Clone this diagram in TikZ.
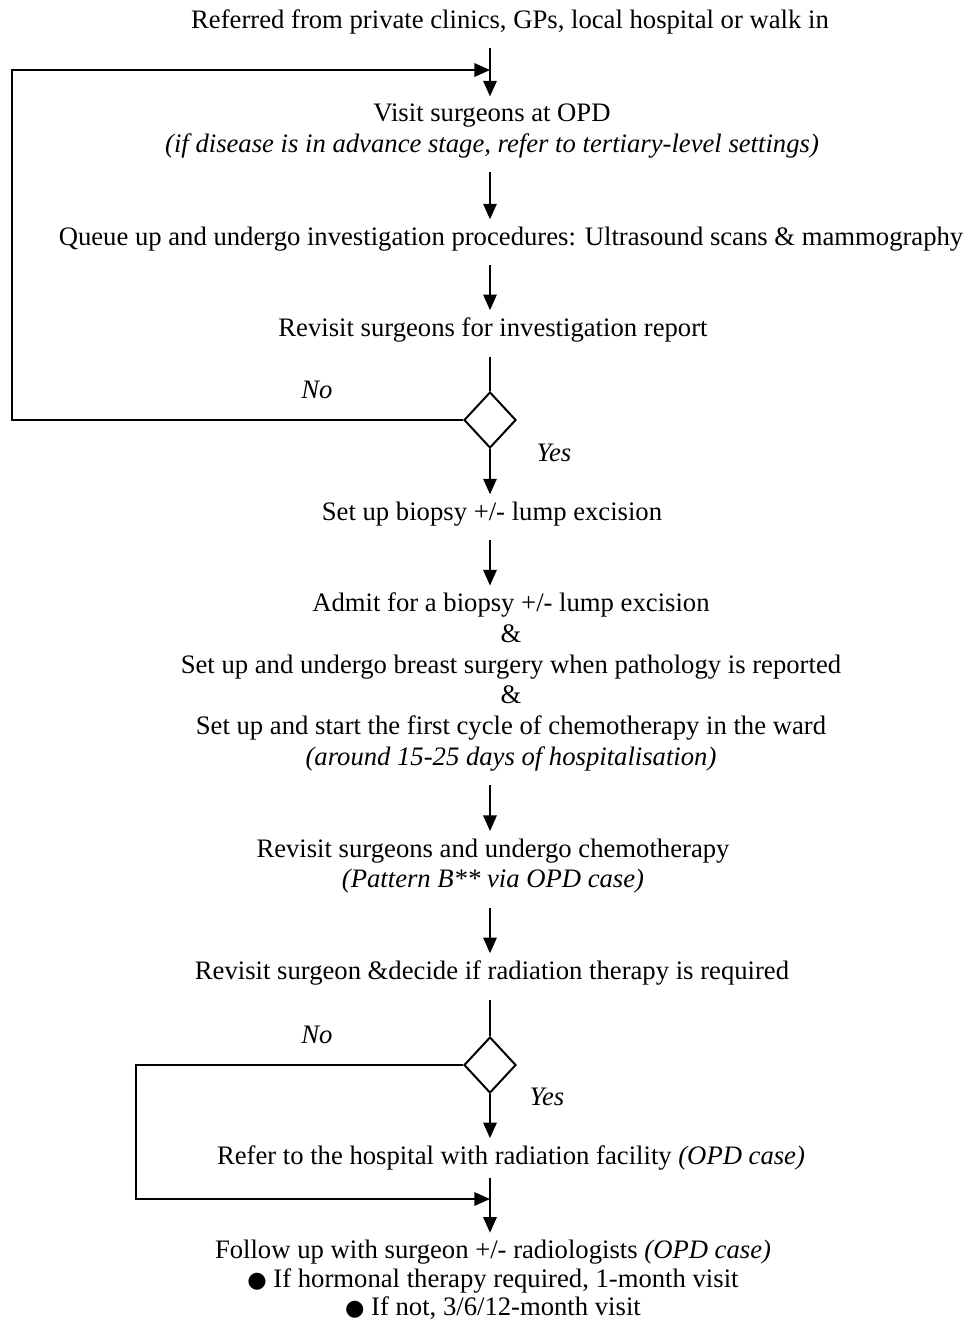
\documentclass[tikz,border=0pt]{standalone}
\usepackage{fontspec}
\setmainfont{Liberation Serif}
\newfontfamily\dotfont{DejaVu Sans}
\usepackage{tikz}
\usetikzlibrary{shapes.geometric, arrows.meta, positioning, calc}

\begin{document}
\begin{tikzpicture}[x=0.45pt, y=-0.45pt,
  every node/.style={font=\fontsize{12}{13.8}\selectfont, align=center, inner xsep=0pt, inner ysep=3.2pt},
  flow/.style={line width=0.9pt, -{Triangle[length=7pt,width=6pt]}, shorten <=3pt},
  loop/.style={line width=0.9pt, -{Triangle[length=7pt,width=6pt]}},
  link/.style={line width=0.9pt},
  decision/.style={diamond, draw, line width=0.9pt, minimum width=23.4pt, minimum height=25.2pt, inner sep=0pt},
  answer/.style={font=\fontsize{12}{13.8}\selectfont\itshape}]
\useasboundingbox (0,0) rectangle (964,1321);

% main column
\coordinate (col) at (490,0);

\node (ref) at (510,22) {Referred from private clinics, GPs, local hospital or walk in};
\node (visit) at (492,131) {Visit surgeons at OPD\\
  \textit{(if disease is in advance stage, refer to tertiary-level settings)}};
\node (queue) at (511,239) {Queue up and undergo investigation procedures: Ultrasound scans \& mammography};
\node (rev) at (493,330) {Revisit surgeons for investigation report};
\node[decision] (dec1) at (490,420) {};
\node (bio) at (492,514) {Set up biopsy +/- lump excision};
\node (admit) at (511,682) {Admit for a biopsy +/- lump excision\\
  \&\\
  Set up and undergo breast surgery when pathology is reported\\
  \&\\
  Set up and start the first cycle of chemotherapy in the ward\\
  \textit{(around 15-25 days of hospitalisation)}};
\node (chemo) at (493,866) {Revisit surgeons and undergo chemotherapy\\
  \textit{(Pattern B** via OPD case)}};
\node (decide) at (492,973) {Revisit surgeon \&decide if radiation therapy is required};
\node[decision] (dec2) at (490,1065) {};
\node (refer) at (511,1158) {Refer to the hospital with radiation facility \textit{(OPD case)}};
\node[font=\fontsize{12}{12.8}\selectfont] (follow) at (493,1280) {Follow up with surgeon +/- radiologists \textit{(OPD case)}\\
  {\dotfont\fontsize{10}{12.8}\selectfont ●} If hormonal therapy required, 1-month visit\\
  {\dotfont\fontsize{10}{12.8}\selectfont ●} If not, 3/6/12-month visit};

% straight arrows
\foreach \a/\b in {ref/visit, visit/queue, queue/rev, admit/chemo, chemo/decide, bio/admit} {
  \draw[flow] (\a.south -| col) -- (\b.north -| col);
}
\draw[flow, shorten <=0pt] (refer.south -| col) -- (follow.north -| col);

% first decision
\draw[link, shorten <=3pt] (rev.south -| col) -- (dec1.north);
\draw[loop] (dec1.south) -- (bio.north -| col);
\coordinate (lft1) at (12,70);
\coordinate (j1) at (490,70);
\draw[loop] (dec1.west) -| (lft1) -- (j1);
\node[answer] (no1) at (317,390) {No};
\node[answer] (yes1) at (554,453) {Yes};

% second decision
\draw[link, shorten <=3pt] (decide.south -| col) -- (dec2.north);
\draw[loop] (dec2.south) -- (refer.north -| col);
\coordinate (lft2) at (136,1199);
\coordinate (j2) at (490,1199);
\draw[loop] (dec2.west) -| (lft2) -- (j2);
\node[answer] (no2) at (317,1035) {No};
\node[answer] (yes2) at (547,1097) {Yes};
\end{tikzpicture}
\end{document}
